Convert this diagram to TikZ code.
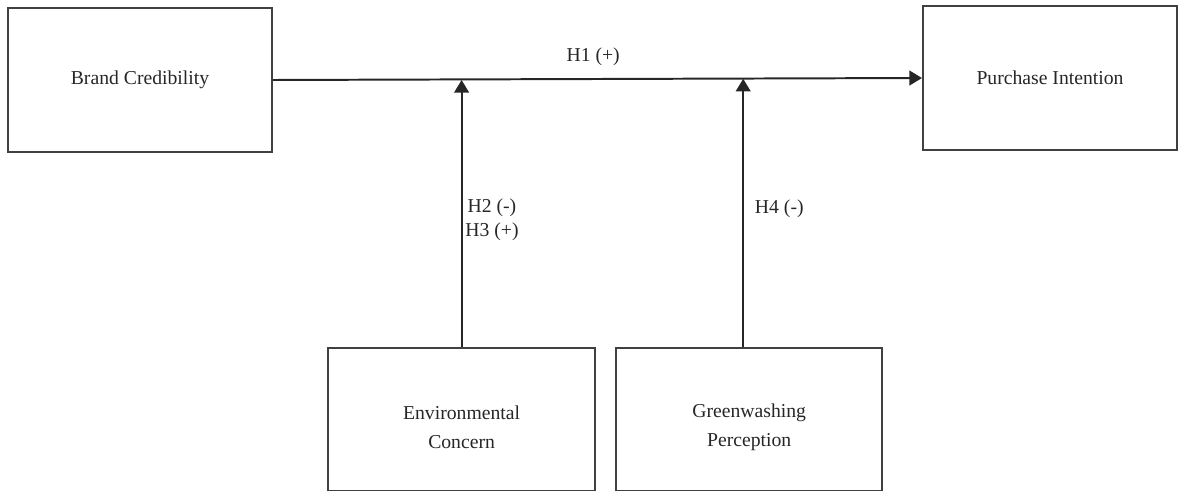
\documentclass[tikz,border=0pt]{standalone}
\usepackage{fontspec}
\setmainfont{Liberation Serif}
\usepackage{tikz}
\usetikzlibrary{arrows.meta, positioning}

\begin{document}
\begin{tikzpicture}[>={Triangle[length=9pt, width=10.5pt]},
  every node/.style={text=black!85, font=\fontsize{14}{17}\selectfont},
  varbox/.style={draw=black!75, line width=1.4pt, minimum width=6.6cm, minimum height=3.6cm, align=center},
  path/.style={draw=black!85, line width=1.4pt}]
  \useasboundingbox (0,0) rectangle (29.65,-12.275);
  % constructs
  \node[varbox] (bc) at (3.5,-2.0) {Brand Credibility};
  \node[varbox, minimum width=6.35cm] (pi) at (26.25,-1.95) {Purchase Intention};
  \node[varbox, minimum width=6.675cm, minimum height=3.575cm,
        font=\fontsize{14}{21}\selectfont] (ec) at (11.54,-10.49) {\\[-0.5pt]Environmental\\Concern};
  \node[varbox, minimum width=6.65cm, minimum height=3.575cm,
        font=\fontsize{14}{21}\selectfont] (gp) at (18.73,-10.49) {\\[-0.5pt]Greenwashing\\Perception};
  % main path
  \draw[path, ->] (bc.east) -- (pi.west);
  \node (h1) at (14.83,-1.43) {H1 (+)};
  % moderators
  \coordinate (m1) at (ec.north |- bc.east);
  \coordinate (m2) at (18.58,-1.97);
  \draw[path, ->] (ec.north) -- (m1);
  \draw[path, ->] (m2 |- gp.north) -- (m2);
  \node[align=center] (h23) at (12.3,-5.5) {H2 (-)\\H3 (+)};
  \node[anchor=west] (h4) at (18.75,-5.22) {H4 (-)};
\end{tikzpicture}
\end{document}
